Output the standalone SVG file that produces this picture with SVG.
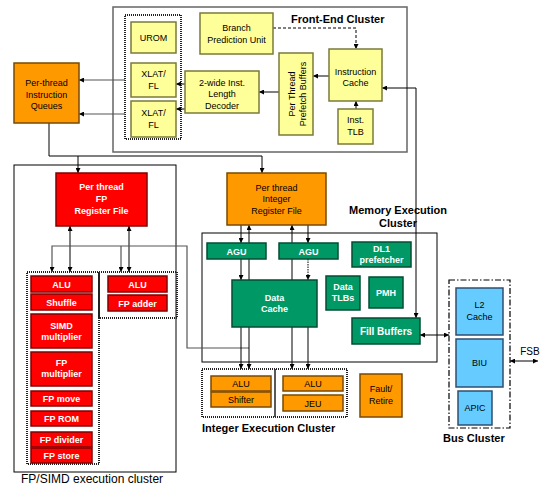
<svg xmlns="http://www.w3.org/2000/svg" width="548" height="493" viewBox="0 0 548 493">
<defs>
<marker id="ah" viewBox="0 0 6 6" refX="6" refY="3" markerWidth="5" markerHeight="5" orient="auto-start-reverse" markerUnits="userSpaceOnUse"><path d="M0,0 L6,3 L0,6 z" fill="#000"/></marker>
<style>
text{font-family:"Liberation Sans",Arial,sans-serif;text-anchor:middle}
.y{fill:#FFFF99;stroke:#7A7A3A;stroke-width:1.5}
.o{fill:#FF9900;stroke:#7A4A00;stroke-width:1.5}
.r{fill:#FF0000;stroke:#800000;stroke-width:1.5}
.g{fill:#009966;stroke:#004D33;stroke-width:1.5}
.b{fill:#66CCFF;stroke:#2F4F6F;stroke-width:1.5}
.t{font-size:9px;fill:#000}
.w{font-size:9px;fill:#fff;font-weight:bold}
.frame{fill:none;stroke:#000;stroke-width:1}
.dot{fill:none;stroke:#222;stroke-width:2;stroke-dasharray:1 1}
.lbl{font-size:11px;font-weight:bold;fill:#000;text-anchor:start}
.c{fill:none;stroke:#000;stroke-width:1}
.cg{fill:none;stroke:#555;stroke-width:1.2}
</style>
</defs>

<g id="clusters">
<rect x="113" y="7" width="294" height="145" fill="none" stroke="#666" stroke-width="1.5"/>
<text class="lbl" x="291" y="23">Front-End Cluster</text>
<rect x="14" y="165" width="162" height="307" class="frame"/>
<text x="21" y="483" style="font-size:12px;text-anchor:start">FP/SIMD execution cluster</text>
<rect x="202" y="233" width="235" height="129" class="frame"/>
<text class="lbl" x="398" y="214" style="text-anchor:middle">Memory Execution</text>
<text class="lbl" x="398" y="227" style="text-anchor:middle">Cluster</text>
<rect x="202" y="369" width="145" height="48" class="dot"/>
<line x1="275" y1="369" x2="275" y2="417" stroke="#222" stroke-width="1.5"/>
<text class="lbl" x="202" y="432">Integer Execution Cluster</text>
<rect x="449" y="280" width="61" height="148" fill="none" stroke="#000" stroke-width="1.2" stroke-dasharray="6 2 1.5 2"/>
<text class="lbl" x="443" y="442">Bus Cluster</text>
<rect x="125" y="15" width="56" height="124" class="dot"/>
<rect x="27" y="272" width="72" height="192" class="dot"/>
<rect x="99" y="272" width="78" height="46" class="dot"/>
</g>

<g id="connectors">
<path class="cg" d="M125,80 H79" marker-end="url(#ah)"/>
<path class="cg" d="M125,114 H79" marker-end="url(#ah)"/>
<path class="c" d="M185,84 H176" marker-end="url(#ah)"/>
<path class="c" d="M185,109 H176" marker-end="url(#ah)"/>
<path class="c" d="M279,92 H259" marker-end="url(#ah)"/>
<path class="c" d="M329,76 H313" marker-end="url(#ah)"/>
<path class="c" d="M273,28 H356 V49" stroke-dasharray="3 2" marker-end="url(#ah)"/>
<path class="c" d="M356,109 V101" marker-end="url(#ah)"/>
<path class="c" d="M382,88 H416 V318" marker-start="url(#ah)" marker-end="url(#ah)"/>
<path class="c" d="M49,123 V156 H262 V173" marker-end="url(#ah)"/>
<path class="c" d="M78,156 V173" marker-end="url(#ah)"/>
<path class="c" d="M70,226 V272" marker-start="url(#ah)" marker-end="url(#ah)"/>
<path class="c" d="M129,226 V272" marker-start="url(#ah)" marker-end="url(#ah)"/>
<path class="cg" d="M249,348 H187 V246 H52 V272" marker-end="url(#ah)"/>
<path class="cg" d="M121,246 V272" marker-end="url(#ah)"/>
<path class="c" d="M241,225 V243" marker-end="url(#ah)"/>
<path class="c" d="M241,259 V280" marker-end="url(#ah)"/>
<path class="c" d="M241,327 V369" marker-end="url(#ah)"/>
<path class="c" d="M249,243 V225" marker-end="url(#ah)"/>
<path class="c" d="M249,280 V259"/>
<path class="c" d="M249,327 V369" marker-end="url(#ah)"/>
<path class="c" d="M292,243 V225" marker-end="url(#ah)"/>
<path class="c" d="M292,280 V259"/>
<path class="c" d="M292,327 V369" marker-end="url(#ah)"/>
<path class="c" d="M308,225 V243" marker-end="url(#ah)"/>
<path class="c" d="M308,259 V280" stroke-dasharray="1.5 1" marker-end="url(#ah)"/>
<path class="c" d="M308,327 V369" marker-end="url(#ah)"/>
<path class="c" d="M420,335 H449" marker-start="url(#ah)" marker-end="url(#ah)"/>
<path class="c" d="M510,361 H538" marker-start="url(#ah)" marker-end="url(#ah)"/>
</g>

<g id="urom"><rect class="y" x="131" y="22" width="45" height="31"/><text class="t" x="153.5" y="41">UROM</text></g>
<g id="xlat1"><rect class="y" x="131" y="63" width="45" height="34"/><text class="t" x="153.5" y="77">XLAT/</text><text class="t" x="153.5" y="89">FL</text></g>
<g id="xlat2"><rect class="y" x="131" y="101" width="45" height="36"/><text class="t" x="153.5" y="116">XLAT/</text><text class="t" x="153.5" y="128">FL</text></g>
<g id="bpu"><rect class="y" x="200" y="13" width="73" height="41"/><text class="t" x="236.5" y="31">Branch</text><text class="t" x="236.5" y="43">Prediction Unit</text></g>
<g id="decoder"><rect class="y" x="185" y="71" width="74" height="42"/><text class="t" x="222" y="86">2-wide Inst.</text><text class="t" x="222" y="97">Length</text><text class="t" x="222" y="109">Decoder</text></g>
<g id="prefetch"><rect class="y" x="279" y="53" width="34" height="82"/><text class="t" transform="translate(294.5,94) rotate(-90)">Per Thread</text><text class="t" transform="translate(305.5,94) rotate(-90)">Prefetch Buffers</text></g>
<g id="icache"><rect class="y" x="329" y="49" width="53" height="52"/><text class="t" x="355.5" y="75">Instruction</text><text class="t" x="355.5" y="86">Cache</text></g>
<g id="itlb"><rect class="y" x="338" y="109" width="35" height="35"/><text class="t" x="355.5" y="123">Inst.</text><text class="t" x="355.5" y="135">TLB</text></g>
<g id="queues"><rect class="o" x="14" y="63" width="65" height="60"/><text class="t" x="46.5" y="86">Per-thread</text><text class="t" x="46.5" y="98">Instruction</text><text class="t" x="46.5" y="109">Queues</text></g>

<g id="fprf"><rect class="r" x="56" y="173" width="91" height="53"/><text class="w" x="101.5" y="190">Per thread</text><text class="w" x="101.5" y="202">FP</text><text class="w" x="101.5" y="214">Register File</text></g>
<g id="fp-alu"><rect class="r" x="31" y="276" width="61" height="16"/><text class="w" x="61.5" y="287.5">ALU</text></g>
<g id="fp-shuffle"><rect class="r" x="31" y="294" width="61" height="16"/><text class="w" x="61.5" y="305.5">Shuffle</text></g>
<g id="fp-simdmul"><rect class="r" x="31" y="314" width="61" height="34"/><text class="w" x="61.5" y="329">SIMD</text><text class="w" x="61.5" y="340">multiplier</text></g>
<g id="fp-fpmul"><rect class="r" x="31" y="352" width="61" height="34"/><text class="w" x="61.5" y="366">FP</text><text class="w" x="61.5" y="377">multiplier</text></g>
<g id="fp-move"><rect class="r" x="31" y="391" width="61" height="15"/><text class="w" x="61.5" y="401.5">FP move</text></g>
<g id="fp-rom"><rect class="r" x="31" y="411" width="61" height="15"/><text class="w" x="61.5" y="421.5">FP ROM</text></g>
<g id="fp-divider"><rect class="r" x="31" y="432" width="61" height="15"/><text class="w" x="61.5" y="442.5">FP divider</text></g>
<g id="fp-store"><rect class="r" x="31" y="448" width="61" height="15"/><text class="w" x="61.5" y="458.5">FP store</text></g>
<g id="fp-alu2"><rect class="r" x="108" y="276" width="59" height="16"/><text class="w" x="137.5" y="287.5">ALU</text></g>
<g id="fp-adder"><rect class="r" x="108" y="295" width="59" height="16"/><text class="w" x="137.5" y="306.5">FP adder</text></g>

<g id="intrf"><rect class="o" x="227" y="173" width="99" height="52"/><text class="t" x="276.5" y="191">Per thread</text><text class="t" x="276.5" y="202">Integer</text><text class="t" x="276.5" y="214">Register File</text></g>
<g id="agu1"><rect class="g" x="207" y="243" width="59" height="16"/><text class="w" x="236.5" y="254.5">AGU</text></g>
<g id="agu2"><rect class="g" x="279" y="243" width="59" height="16"/><text class="w" x="308.5" y="254.5">AGU</text></g>
<g id="dl1"><rect class="g" x="352" y="242" width="59" height="25"/><text class="w" x="381.5" y="252">DL1</text><text class="w" x="381.5" y="263">prefetcher</text></g>
<g id="dtlb"><rect class="g" x="326" y="276" width="34" height="34"/><text class="w" x="343" y="290">Data</text><text class="w" x="343" y="301">TLBs</text></g>
<g id="pmh"><rect class="g" x="369" y="277" width="34" height="31"/><text class="w" x="386" y="296">PMH</text></g>
<g id="dcache"><rect class="g" x="232" y="280" width="85" height="47"/><text class="w" x="274.5" y="301">Data</text><text class="w" x="274.5" y="312">Cache</text></g>
<g id="fill"><rect class="g" x="352" y="318" width="68" height="26"/><text class="w" x="386" y="334.5" style="font-size:10px">Fill Buffers</text></g>

<g id="int-alu1"><rect class="o" x="211" y="376" width="60" height="15"/><text class="t" x="241" y="386.5">ALU</text></g>
<g id="int-shifter"><rect class="o" x="211" y="392" width="60" height="15"/><text class="t" x="241" y="403">Shifter</text></g>
<g id="int-alu2"><rect class="o" x="283" y="376" width="60" height="15"/><text class="t" x="313" y="386.5">ALU</text></g>
<g id="int-jeu"><rect class="o" x="283" y="395" width="60" height="16"/><text class="t" x="313" y="406.5">JEU</text></g>
<g id="fault"><rect class="o" x="360" y="374" width="42" height="43"/><text class="t" x="381" y="392">Fault/</text><text class="t" x="381" y="404">Retire</text></g>

<g id="l2"><rect class="b" x="456" y="288" width="47" height="47"/><text class="t" x="479.5" y="308">L2</text><text class="t" x="479.5" y="320">Cache</text></g>
<g id="biu"><rect class="b" x="456" y="339" width="47" height="48"/><text class="t" x="479.5" y="366">BIU</text></g>
<g id="apic"><rect class="b" x="458" y="391" width="34" height="34"/><text class="t" x="475" y="411">APIC</text></g>
<text x="530" y="355" style="font-size:10px">FSB</text>
</svg>
